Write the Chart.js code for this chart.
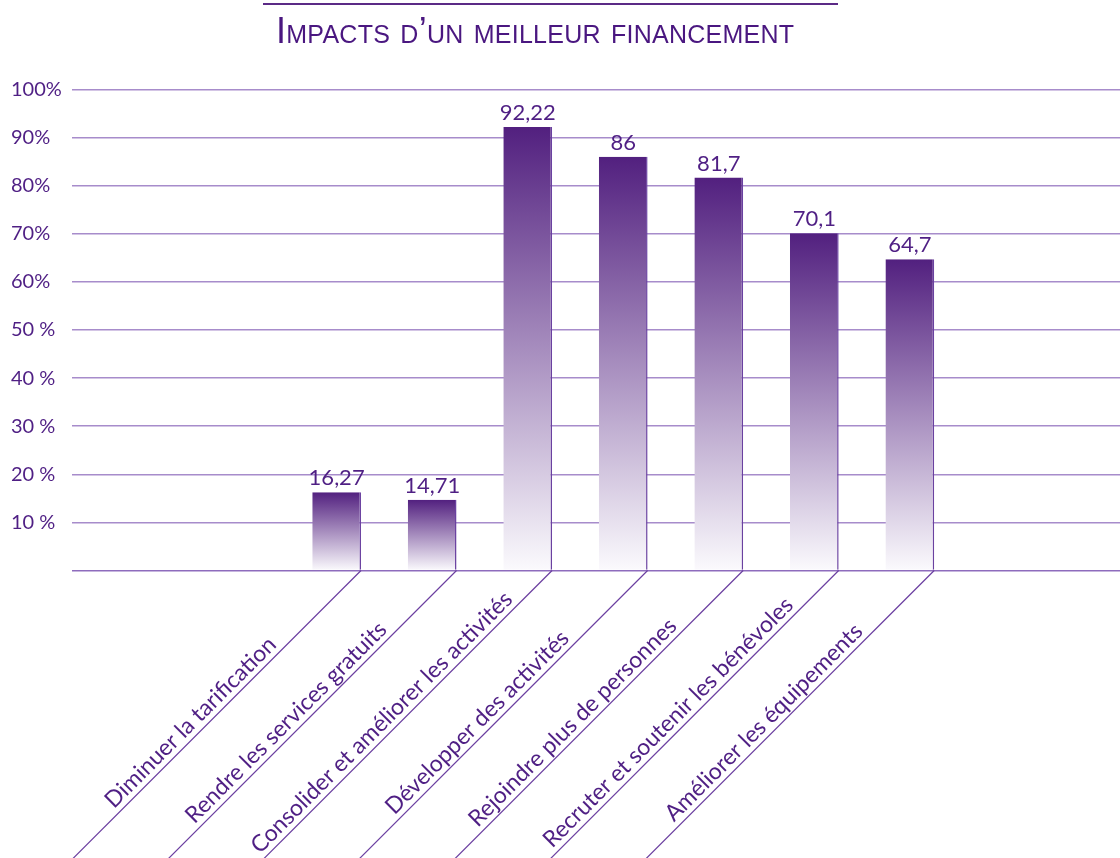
<!DOCTYPE html>
<html lang="fr">
<head>
<meta charset="utf-8">
<title>Impacts d'un meilleur financement</title>
<script src="https://cdn.jsdelivr.net/npm/chart.js@4.4.1/dist/chart.umd.min.js"></script>
<style>
  html, body { margin: 0; padding: 0; background: #fff; }
  #wrap { position: relative; width: 1120px; height: 858px; }
  #title {
    position: absolute; left: 263px; top: 3px; width: 575px;
    border-top: 2px solid #5b2a86;
    font-family: "Liberation Sans Narrow", "Liberation Sans", sans-serif;
    font-variant: small-caps; font-size: 36px; letter-spacing: 0.25px; color: #4a1780;
    line-height: 1; padding-top: 8px; padding-left: 13px; box-sizing: border-box;
    white-space: nowrap;
  }
  canvas { position: absolute; left: 0; top: 0; }
</style>
</head>
<body>
<div id="wrap">
  <canvas id="impactsChart" width="1120" height="858"></canvas>
  <div id="title">Impacts d’un meilleur financement</div>
</div>
<script>
const categories = [
  'Diminuer la tarification',
  'Rendre les services gratuits',
  'Consolider et améliorer les activités',
  'Développer des activités',
  'Rejoindre plus de personnes',
  'Recruter et soutenir les bénévoles',
  'Améliorer les équipements'
]
const values = [16.27, 14.71, 92.22, 86, 81.7, 70.1, 64.7]
const valueLabels = ['16,27', '14,71', '92,22', '86', '81,7', '70,1', '64,7']
const yTickLabels = ['', '10 %', '20 %', '30 %', '40 %', '50 %', '60%', '70%', '80%', '90%', '100%']

const textColor = '#4f1f84'
const lineColor = '#6b3fa0'

// value above each bar
const valueLabelPlugin = {
  id: 'valueLabels',
  afterDatasetsDraw(chart) {
    const ctx = chart.ctx
    const meta = chart.getDatasetMeta(0)
    ctx.save()
    ctx.font = '22px Lato'
    ctx.fillStyle = textColor
    ctx.textAlign = 'center'
    ctx.textBaseline = 'alphabetic'
    meta.data.forEach((bar, i) => {
      ctx.fillText(valueLabels[i], bar.x, bar.y - 7)
    })
    ctx.restore()
  }
}

// slanted guide lines from the right edge of each bar, and the
// category names centred along the diagonal under each bar
const slantPlugin = {
  id: 'slantLines',
  afterDatasetsDraw(chart) {
    const ctx = chart.ctx
    const base = chart.scales.y.getPixelForValue(0)
    const meta = chart.getDatasetMeta(0)
    ctx.save()
    ctx.strokeStyle = lineColor
    ctx.lineWidth = 1.2
    meta.data.forEach((bar) => {
      const xr = bar.x + bar.width / 2
      ctx.beginPath()
      ctx.moveTo(xr, base)
      ctx.lineTo(xr - 320, base + 320)
      ctx.stroke()
    })
    ctx.font = '23px Lato'
    ctx.fillStyle = textColor
    ctx.textAlign = 'center'
    ctx.textBaseline = 'alphabetic'
    meta.data.forEach((bar, i) => {
      ctx.save()
      ctx.translate(bar.x - 149, base + 149)
      ctx.rotate(-Math.PI / 4)
      ctx.fillText(categories[i], 0, 11.5)
      ctx.restore()
    })
    ctx.restore()
  }
}

const ctx = document.getElementById('impactsChart').getContext('2d')

new Chart(ctx, {
  type: 'bar',
  data: {
    datasets: [{
      data: values.map((v, i) => ({ x: i, y: v })),
      backgroundColor: (c) => {
        const chart = c.chart
        if (!chart.chartArea || c.type !== 'data') return '#5b2a86'
        const y = chart.scales.y
        const top = y.getPixelForValue(values[c.dataIndex])
        const bottom = y.getPixelForValue(0)
        const g = chart.ctx.createLinearGradient(0, top, 0, bottom)
        g.addColorStop(0, '#52207f')
        g.addColorStop(1, '#fbfafd')
        return g
      },
      borderColor: '#6a41a0',
      borderWidth: { top: 0, left: 0, bottom: 0, right: 1.5 },
      borderSkipped: false,
      barPercentage: 0.51,
      categoryPercentage: 1
    }]
  },
  options: {
    responsive: false,
    animation: false,
    layout: { padding: { left: 11, top: 89.5, right: 0, bottom: 0 } },
    scales: {
      x: {
        type: 'linear',
        min: -2.77,
        max: 8.2,
        bounds: 'data',
        offset: false,
        grid: { display: false },
        border: { display: false },
        afterBuildTicks: (scale) => {
          scale.ticks = categories.map((_, i) => ({ value: i }))
        },
        afterFit: (scale) => { scale.height = 287.5 },
        ticks: { display: false }
      },
      y: {
        min: 0,
        max: 100,
        grid: {
          drawTicks: false,
          lineWidth: 1.5,
          color: (c) => c.tick && c.tick.value === 0 ? '#8e6cbd' : '#a78ccb'
        },
        border: { display: false },
        afterFit: (scale) => { scale.width = 61 },
        ticks: {
          stepSize: 10,
          crossAlign: 'far',
          color: textColor,
          font: { family: 'Lato', size: 20 },
          callback: (value) => yTickLabels[Math.round(value / 10)]
        }
      }
    },
    plugins: {
      legend: { display: false },
      tooltip: { enabled: false }
    }
  },
  plugins: [valueLabelPlugin, slantPlugin]
})
</script>
</body>
</html>
